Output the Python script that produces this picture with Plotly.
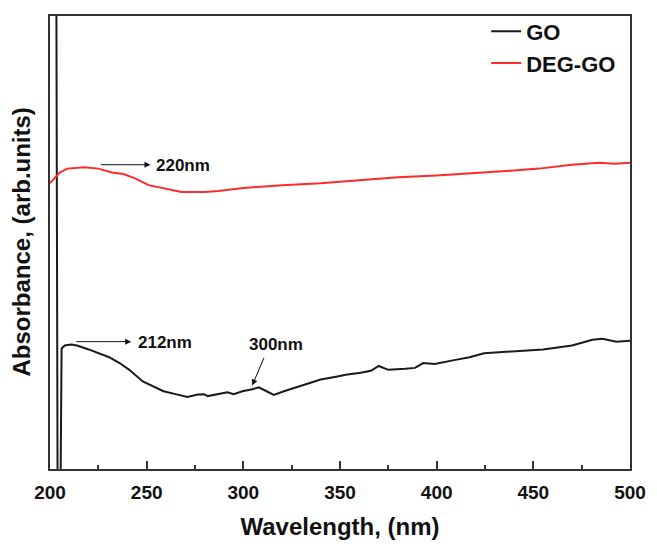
import plotly.graph_objects as go

# UV-Vis absorbance spectra (arbitrary units)
go_wavelength = [200, 203.0, 203.4, 204.3, 206, 207.6, 211, 214, 220, 225, 230.6, 236, 241,
                 248, 253, 258.7, 265, 271, 276.5, 279.6, 281.6, 286, 291.8, 295, 299.5,
                 304.6, 308, 311, 315.8, 321, 327.5, 335, 340, 348, 353, 360.7, 366, 370,
                 375, 383.7, 388.8, 393, 399, 409, 417, 424.5, 440, 455, 470, 480.6,
                 485.7, 493, 500]
go_absorbance = [7.80, 7.80, 4.00, -3.20, 1.24, 1.27, 1.28, 1.27, 1.23, 1.19, 1.15, 1.09, 1.02,
                 0.90, 0.85, 0.80, 0.77, 0.74, 0.767, 0.77, 0.75, 0.77, 0.79, 0.77, 0.80,
                 0.82, 0.84, 0.81, 0.763, 0.80, 0.84, 0.89, 0.92, 0.95, 0.97, 0.99, 1.01, 1.06,
                 1.02, 1.03, 1.04, 1.09, 1.08, 1.12, 1.15, 1.19, 1.21, 1.23, 1.27, 1.33,
                 1.34, 1.31, 1.32]

deg_wavelength = [200, 202.5, 205, 209, 213, 218, 225, 232, 238, 244, 251, 260, 268, 280,
                  287, 300, 320, 340, 360, 370, 380, 400, 426, 440, 453, 470, 484, 492, 500]
deg_absorbance = [2.94, 3.00, 3.05, 3.09, 3.10, 3.105, 3.09, 3.05, 3.035, 2.99, 2.92, 2.88,
                  2.85, 2.85, 2.86, 2.89, 2.92, 2.94, 2.97, 2.99, 3.00, 3.02, 3.05, 3.07,
                  3.09, 3.13, 3.15, 3.14, 3.15]

x_ticks = [200, 250, 300, 350, 400, 450, 500]

FONT = "Liberation Sans, Arial, sans-serif"

fig = go.Figure()
fig.add_trace(go.Scatter(x=go_wavelength, y=go_absorbance, mode="lines", name="GO",
                         line=dict(color="#1a1a1a", width=2)))
fig.add_trace(go.Scatter(x=deg_wavelength, y=deg_absorbance, mode="lines", name="DEG-GO",
                         line=dict(color="#ff2a2a", width=2)))

# peak labels with arrows
arrow = dict(showarrow=True, arrowhead=2, arrowsize=1.2, arrowwidth=1,
             arrowcolor="#111", axref="x", ayref="y", xref="x", yref="y", text="")
fig.add_annotation(x=252, y=3.13, ax=225.5, ay=3.13, **arrow)
fig.add_annotation(x=242, y=1.31, ax=212.8, ay=1.31, **arrow)
fig.add_annotation(x=304.6, y=0.86, ax=311, ay=1.16, **arrow)

lab = dict(showarrow=False, xref="x", yref="y",
           font=dict(family=FONT, size=17, color="#111", weight="bold"))
fig.add_annotation(x=254, y=3.12, text="220nm", xanchor="left", **lab)
fig.add_annotation(x=244.4, y=1.30, text="212nm", xanchor="left", **lab)
fig.add_annotation(x=316.8, y=1.28, text="300nm", xanchor="center", **lab)

# y-axis title
fig.add_annotation(x=0, y=0.5, xref="paper", yref="paper", xanchor="center", yanchor="middle",
                   xshift=-29, text="Absorbance, (arb.units)",
                   textangle=-90, showarrow=False,
                   font=dict(family=FONT, size=24, color="#111", weight="bold"))

fig.update_layout(
    width=657, height=547,
    margin=dict(l=50, r=19, t=11, b=70),
    paper_bgcolor="white", plot_bgcolor="white",
    showlegend=True,
    legend=dict(x=0.752, y=1.012, xanchor="left", yanchor="top",
                bgcolor="rgba(0,0,0,0)", borderwidth=0, tracegroupgap=0,
                font=dict(family=FONT, size=22, color="#111", weight="bold")),
    xaxis=dict(range=[200, 500], tickvals=x_ticks, ticktext=[str(v) for v in x_ticks],
               ticks="inside", ticklen=8, tickwidth=1.5, tickcolor="#333",
               minor=dict(dtick=25, tick0=200, ticks="inside", ticklen=4, tickwidth=1.5, tickcolor="#333"),
               showline=True, linecolor="#333", linewidth=2, mirror=True,
               showgrid=False, zeroline=False, ticklabelstandoff=5,
               tickfont=dict(family=FONT, size=19, color="#111", weight="bold"),
               title=dict(text="Wavelength, (nm)", standoff=16,
                          font=dict(family=FONT, size=24, color="#111", weight="bold"))),
    yaxis=dict(range=[0, 4.66], showticklabels=False, ticks="",
               showline=True, linecolor="#333", linewidth=2, mirror=True,
               showgrid=False, zeroline=False),
)

fig.write_html("out.html")
